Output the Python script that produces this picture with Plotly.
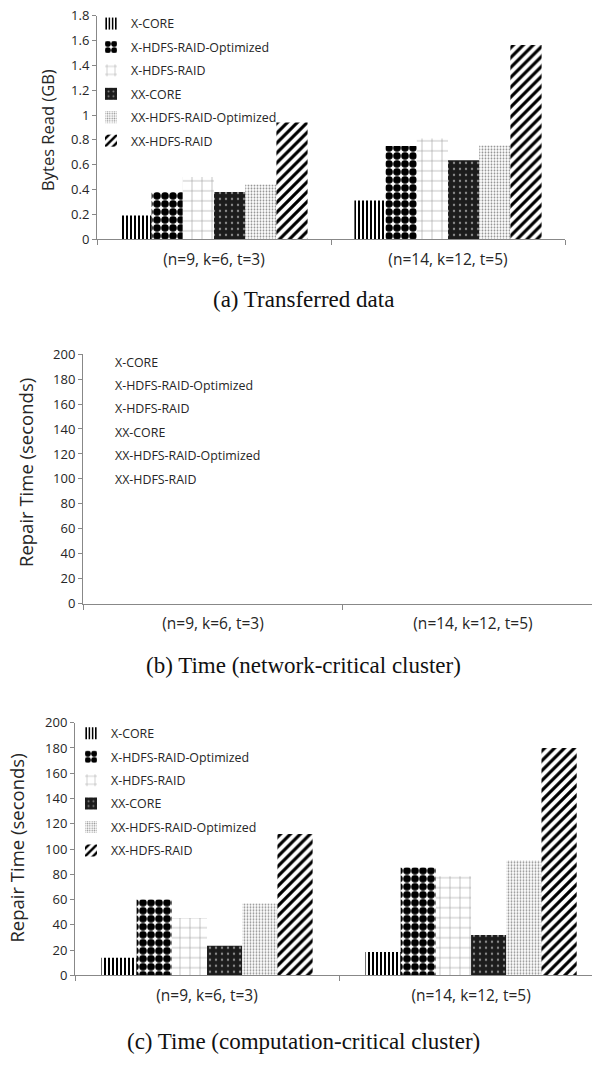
import plotly.graph_objects as go

W, H = 592, 1065

# ---------------- data ----------------
categories = ["(n=9, k=6, t=3)", "(n=14, k=12, t=5)"]
series_names = ["X-CORE", "X-HDFS-RAID-Optimized", "X-HDFS-RAID",
                "XX-CORE", "XX-HDFS-RAID-Optimized", "XX-HDFS-RAID"]

# (a) Transferred data, GB
bytes_x_core = [0.19, 0.31]
bytes_x_hdfs_opt = [0.38, 0.75]
bytes_x_hdfs = [0.50, 0.81]
bytes_xx_core = [0.38, 0.635]
bytes_xx_hdfs_opt = [0.44, 0.755]
bytes_xx_hdfs = [0.94, 1.565]

# (b) Time, network-critical cluster (no bars drawn in the reference)
net_x_core = [None, None]
net_x_hdfs_opt = [None, None]
net_x_hdfs = [None, None]
net_xx_core = [None, None]
net_xx_hdfs_opt = [None, None]
net_xx_hdfs = [None, None]

# (c) Time, computation-critical cluster, seconds
comp_x_core = [14, 18.5]
comp_x_hdfs_opt = [60, 85.5]
comp_x_hdfs = [45.5, 78.5]
comp_xx_core = [23.5, 32]
comp_xx_hdfs_opt = [57, 91]
comp_xx_hdfs = [112, 180]

y_ticks_gb = [0, 0.2, 0.4, 0.6, 0.8, 1, 1.2, 1.4, 1.6, 1.8]
y_ticks_sec = [0, 20, 40, 60, 80, 100, 120, 140, 160, 180, 200]

# ---------------- styles ----------------
patterns = [
    dict(shape="|", fgcolor="#000000", bgcolor="#ffffff", size=4, solidity=0.5, fillmode="replace"),
    dict(shape=".", fgcolor="#000000", bgcolor="#ffffff", size=8, solidity=0.72, fillmode="replace"),
    dict(shape="+", fgcolor="#8c8c8c", bgcolor="#ffffff", size=10, solidity=0.1, fillmode="replace"),
    dict(shape=".", fgcolor="#8a8a8a", bgcolor="#1c1c1c", size=6, solidity=0.12, fillmode="replace"),
    dict(shape=".", fgcolor="#8f8f8f", bgcolor="#ffffff", size=3, solidity=0.3, fillmode="replace"),
    dict(shape="/", fgcolor="#000000", bgcolor="#ffffff", size=7, solidity=0.45, fillmode="replace"),
]

SANS = "Open Sans"
SERIF = "Liberation Serif"
AX = "#888888"
TXT = "#262626"


def px_x(p):
    return p / W


def px_y(p):
    return 1 - p / H


fig = go.Figure()

chart_a = [bytes_x_core, bytes_x_hdfs_opt, bytes_x_hdfs, bytes_xx_core, bytes_xx_hdfs_opt, bytes_xx_hdfs]
chart_b = [net_x_core, net_x_hdfs_opt, net_x_hdfs, net_xx_core, net_xx_hdfs_opt, net_xx_hdfs]
chart_c = [comp_x_core, comp_x_hdfs_opt, comp_x_hdfs, comp_xx_core, comp_xx_hdfs_opt, comp_xx_hdfs]

for (vals_list, xa, ya, leg, show_sym) in [(chart_a, "x", "y", "legend", True),
                                           (chart_b, "x2", "y2", "legend2", False),
                                           (chart_c, "x3", "y3", "legend3", True)]:
    for i, (name, vals) in enumerate(zip(series_names, vals_list)):
        if show_sym:
            marker = dict(color="#ffffff", line=dict(width=0), pattern=patterns[i])
        else:
            marker = dict(color="rgba(0,0,0,0)", line=dict(width=0))
        fig.add_trace(go.Bar(
            x=categories, y=vals, name=name,
            xaxis=xa, yaxis=ya, legend=leg,
            legendgroup=leg + str(i),
            marker=marker, hoverinfo="skip",
        ))

common_x = dict(type="category", showline=True, linecolor=AX, linewidth=1,
                ticks="outside", tickson="boundaries", ticklen=5, tickcolor=AX,
                ticklabelstandoff=6,
                showgrid=False, zeroline=False,
                categoryorder="array", categoryarray=categories,
                tickfont=dict(family=SANS, size=15.5, color=TXT))
common_y = dict(showline=True, linecolor=AX, linewidth=1, ticks="outside", ticklen=4,
                tickcolor=AX, showgrid=False, zeroline=False,
                tickfont=dict(family=SANS, size=13, color=TXT))

fig.update_layout(
    width=W, height=H, margin=dict(l=0, r=0, t=0, b=0),
    paper_bgcolor="white", plot_bgcolor="white",
    barmode="group", bargap=0.2, bargroupgap=0,
    showlegend=True,
    xaxis=dict(common_x, domain=[px_x(97), px_x(565)], anchor="y", range=[-0.5, 1.5]),
    yaxis=dict(common_y, domain=[px_y(234), px_y(7)], anchor="x", range=[0, 1.8],
               tickvals=y_ticks_gb),
    xaxis2=dict(common_x, domain=[px_x(83), 1.0], anchor="y2", range=[-0.5, 1.458]),
    yaxis2=dict(common_y, domain=[px_y(605), px_y(351)], anchor="x2", range=[0, 200],
                tickvals=y_ticks_sec),
    xaxis3=dict(common_x, domain=[px_x(75), 1.0], anchor="y3", range=[-0.5, 1.458]),
    yaxis3=dict(common_y, domain=[px_y(983), px_y(726)], anchor="x3", range=[0, 200],
                tickvals=y_ticks_sec),
)

legend_common = dict(orientation="v", xanchor="left", yanchor="top", bgcolor="rgba(0,0,0,0)",
                     borderwidth=0, tracegroupgap=4.3,
                     font=dict(family=SANS, size=12.4, color=TXT))
fig.update_layout(
    legend=dict(legend_common, x=px_x(91), y=px_y(0)),
    legend2=dict(legend_common, x=px_x(75), y=px_y(344)),
    legend3=dict(legend_common, x=px_x(71), y=px_y(722)),
)

annotations = [
    dict(text="Bytes Read (GB)", x=px_x(48), y=px_y(123), textangle=-90, size=16.5),
    dict(text="Repair Time (seconds)", x=px_x(25), y=px_y(472), textangle=-90, size=18.5),
    dict(text="Repair Time (seconds)", x=px_x(17), y=px_y(854), textangle=-90, size=18.5),
]
for a in annotations:
    fig.add_annotation(text=a["text"], x=a["x"], y=a["y"], xref="paper", yref="paper",
                       textangle=a["textangle"], showarrow=False, xanchor="center", yanchor="middle",
                       font=dict(family=SANS, size=a["size"], color=TXT))

captions = [
    ("(a) Transferred data", 296),
    ("(b) Time (network-critical cluster)", 668),
    ("(c) Time (computation-critical cluster)", 1050),
]
for text, ypix in captions:
    fig.add_annotation(text=text, x=px_x(303), y=px_y(ypix), xref="paper", yref="paper",
                       showarrow=False, xanchor="center", yanchor="middle",
                       font=dict(family=SERIF, size=23, color="#111111"))

fig.write_html("out.html", config={"displayModeBar": False},
               post_script="document.body.style.margin='0';document.body.style.overflow='hidden';")
